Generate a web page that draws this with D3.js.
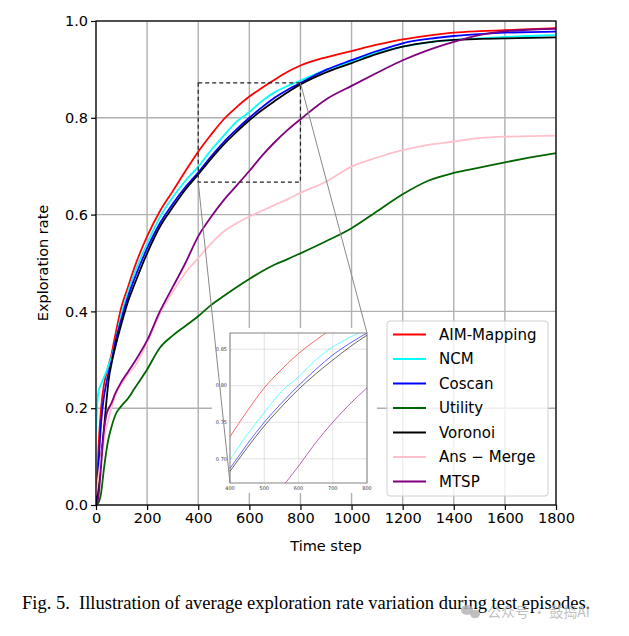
<!DOCTYPE html>
<html>
<head>
<meta charset="utf-8">
<script src="https://cdn.jsdelivr.net/npm/d3@7"></script>
<style>
  body { margin: 0; background: #fff; }
  svg { display: block; font-family: "DejaVu Sans", sans-serif; }
</style>
</head>
<body>
<svg id="chart" width="629" height="636"></svg>
<script>
// Data
// ----
const steps = [0, 5, 10, 20, 30, 40, 50, 60, 75, 100, 125, 150, 200, 250, 300, 350, 400, 450, 500,
  550, 600, 650, 700, 750, 800, 900, 1000, 1100, 1200, 1300, 1400, 1500, 1600, 1700, 1800];

const aimMapping = [0, 0.05, 0.12, 0.2, 0.245, 0.27, 0.29, 0.31, 0.35, 0.41, 0.45, 0.49, 0.555, 0.607, 0.648,
  0.69, 0.73, 0.765, 0.797, 0.822, 0.844, 0.862, 0.879, 0.895, 0.908, 0.925, 0.938, 0.951, 0.962, 0.97,
  0.976, 0.979, 0.981, 0.983, 0.985];
const ncm = [0.15, 0.21, 0.235, 0.25, 0.262, 0.275, 0.29, 0.305, 0.335, 0.395, 0.44, 0.478, 0.54, 0.595, 0.636,
  0.67, 0.699, 0.733, 0.763, 0.792, 0.812, 0.835, 0.853, 0.866, 0.877, 0.899, 0.917, 0.934, 0.947, 0.956,
  0.961, 0.964, 0.967, 0.969, 0.971];
const coscan = [0, 0.02, 0.08, 0.17, 0.22, 0.25, 0.275, 0.295, 0.335, 0.385, 0.43, 0.467, 0.53, 0.582, 0.622,
  0.657, 0.687, 0.72, 0.75, 0.776, 0.8, 0.822, 0.842, 0.858, 0.872, 0.899, 0.919, 0.938, 0.954, 0.963,
  0.969, 0.973, 0.976, 0.977, 0.978];
const utility = [0, 0.002, 0.005, 0.025, 0.07, 0.11, 0.14, 0.16, 0.185, 0.205, 0.22, 0.24, 0.28, 0.325, 0.35,
  0.37, 0.39, 0.413, 0.432, 0.45, 0.467, 0.483, 0.497, 0.508, 0.52, 0.545, 0.572, 0.607, 0.642, 0.67,
  0.686, 0.697, 0.708, 0.718, 0.727];
const voronoi = [0, 0.01, 0.04, 0.1, 0.15, 0.21, 0.26, 0.29, 0.325, 0.375, 0.42, 0.455, 0.52, 0.575, 0.615,
  0.652, 0.683, 0.715, 0.745, 0.771, 0.795, 0.816, 0.835, 0.853, 0.869, 0.894, 0.913, 0.932, 0.947, 0.956,
  0.961, 0.963, 0.964, 0.965, 0.966];
const ansMerge = [0.02, 0.04, 0.06, 0.1, 0.13, 0.16, 0.18, 0.2, 0.225, 0.25, 0.27, 0.285, 0.335, 0.395, 0.44,
  0.48, 0.51, 0.54, 0.565, 0.582, 0.596, 0.608, 0.62, 0.632, 0.645, 0.668, 0.699, 0.718, 0.733, 0.744,
  0.751, 0.758, 0.761, 0.762, 0.763];
const mtsp = [0, 0.005, 0.02, 0.08, 0.15, 0.185, 0.2, 0.21, 0.23, 0.255, 0.275, 0.295, 0.34, 0.4, 0.45,
  0.5, 0.555, 0.595, 0.63, 0.66, 0.69, 0.722, 0.75, 0.775, 0.797, 0.838, 0.866, 0.893, 0.919, 0.94,
  0.957, 0.971, 0.979, 0.982, 0.984];

const seriesNames = ["AIM-Mapping", "NCM", "Coscan", "Utility", "Voronoi", "Ans \u2212 Merge", "MTSP"];
const seriesColors = ["red", "cyan", "blue", "darkgreen", "black", "pink", "purple"];
const seriesValues = [aimMapping, ncm, coscan, utility, voronoi, ansMerge, mtsp];

const xTicks = [0, 200, 400, 600, 800, 1000, 1200, 1400, 1600, 1800];
const yTicks = [0, 0.2, 0.4, 0.6, 0.8, 1.0];
const zoomX = [400, 800];
const zoomY = [0.667, 0.872];
const insetXTicks = [400, 500, 600, 700, 800];
const insetYTicks = [0.70, 0.75, 0.80, 0.85];

const series = seriesNames.map((name, i) => ({
  name, color: seriesColors[i],
  points: steps.map((t, j) => [t, seriesValues[i][j]])
}));

// Main axes
// ---------
const svg = d3.select("#chart");
svg.append("rect").attr("width", 629).attr("height", 636).attr("fill", "#fff");

const plot = { left: 96, right: 556, top: 21, bottom: 505 };
const x = d3.scaleLinear().domain([0, 1800]).range([plot.left, plot.right]);
const y = d3.scaleLinear().domain([0, 1]).range([plot.bottom, plot.top]);

// grid
const grid = svg.append("g").attr("stroke", "#b0b0b0").attr("stroke-width", 1.4);
grid.selectAll(".gx").data(xTicks).join("line")
  .attr("x1", d => x(d)).attr("x2", d => x(d)).attr("y1", plot.top).attr("y2", plot.bottom);
grid.selectAll(".gy").data(yTicks).join("line")
  .attr("x1", plot.left).attr("x2", plot.right).attr("y1", d => y(d)).attr("y2", d => y(d));

const defs = svg.append("defs");
defs.append("clipPath").attr("id", "mainClip")
  .append("rect").attr("x", plot.left).attr("y", plot.top - 2)
  .attr("width", plot.right - plot.left).attr("height", plot.bottom - plot.top + 2);

const line = d3.line().curve(d3.curveMonotoneX).x(d => x(d[0])).y(d => y(d[1]));
svg.append("g").attr("clip-path", "url(#mainClip)")
  .selectAll("path").data(series).join("path")
  .attr("fill", "none").attr("stroke", d => d.color).attr("stroke-width", 1.8)
  .attr("stroke-linejoin", "round").attr("d", d => line(d.points));

// frame and axes
svg.append("rect").attr("x", plot.left).attr("y", plot.top)
  .attr("width", plot.right - plot.left).attr("height", plot.bottom - plot.top)
  .attr("fill", "none").attr("stroke", "#000").attr("stroke-width", 1.2);

const xAxis = svg.append("g").attr("transform", `translate(0,${plot.bottom})`)
  .call(d3.axisBottom(x).tickValues(xTicks).tickFormat(d3.format("d")).tickSize(5).tickPadding(3));
const yAxis = svg.append("g").attr("transform", `translate(${plot.left},0)`)
  .call(d3.axisLeft(y).tickValues(yTicks).tickFormat(d3.format(".1f")).tickSize(5).tickPadding(3));
[xAxis, yAxis].forEach(a => {
  a.select(".domain").remove();
  a.selectAll("line").attr("stroke", "#000").attr("stroke-width", 1.2);
  a.selectAll("text").attr("font-size", 14.5).attr("fill", "#000")
    .attr("font-family", "DejaVu Sans, sans-serif");
});

svg.append("text").attr("x", (plot.left + plot.right) / 2).attr("y", 551)
  .attr("text-anchor", "middle").attr("font-size", 14.5).text("Time step");
svg.append("text").attr("transform", `translate(48,${(plot.top + plot.bottom) / 2}) rotate(-90)`)
  .attr("text-anchor", "middle").attr("font-size", 14.5).text("Exploration rate");

// zoom window marker
svg.append("rect").attr("x", x(zoomX[0])).attr("y", y(zoomY[1]))
  .attr("width", x(zoomX[1]) - x(zoomX[0])).attr("height", y(zoomY[0]) - y(zoomY[1]))
  .attr("fill", "none").attr("stroke", "#222").attr("stroke-width", 1.2).attr("stroke-dasharray", "4,3");

// Inset
// -----
const inset = { left: 230, right: 367, top: 333, bottom: 483 };
const ix = d3.scaleLinear().domain(zoomX).range([inset.left, inset.right]);
const iy = d3.scaleLinear().domain(zoomY).range([inset.bottom, inset.top]);

svg.append("rect").attr("x", 212).attr("y", 328).attr("width", 165).attr("height", 165).attr("fill", "#fff");

const igrid = svg.append("g").attr("stroke", "#dcdcdc").attr("stroke-width", 0.8);
igrid.selectAll(".ix").data(insetXTicks).join("line")
  .attr("x1", d => ix(d)).attr("x2", d => ix(d)).attr("y1", inset.top).attr("y2", inset.bottom);
igrid.selectAll(".iy").data(insetYTicks).join("line")
  .attr("x1", inset.left).attr("x2", inset.right).attr("y1", d => iy(d)).attr("y2", d => iy(d));

defs.append("clipPath").attr("id", "insetClip")
  .append("rect").attr("x", inset.left).attr("y", inset.top)
  .attr("width", inset.right - inset.left).attr("height", inset.bottom - inset.top);

const iline = d3.line().curve(d3.curveMonotoneX).x(d => ix(d[0])).y(d => iy(d[1]));
svg.append("g").attr("clip-path", "url(#insetClip)")
  .selectAll("path").data(series).join("path")
  .attr("fill", "none").attr("stroke", d => d.color).attr("stroke-width", 0.8)
  .attr("stroke-opacity", 0.75).attr("d", d => iline(d.points));

svg.append("rect").attr("x", inset.left).attr("y", inset.top)
  .attr("width", inset.right - inset.left).attr("height", inset.bottom - inset.top)
  .attr("fill", "none").attr("stroke", "#777").attr("stroke-width", 0.9);

svg.append("g").selectAll("text").data(insetXTicks).join("text")
  .attr("x", d => ix(d)).attr("y", inset.bottom + 7).attr("text-anchor", "middle")
  .attr("font-size", 5).attr("fill", "#333").text(d => d);
svg.append("g").selectAll("text").data(insetYTicks).join("text")
  .attr("x", inset.left - 3).attr("y", d => iy(d) + 1.8).attr("text-anchor", "end")
  .attr("font-size", 5).attr("fill", "#333").text(d => d.toFixed(2));

// connector lines
const conn = svg.append("g").attr("stroke", "#888").attr("stroke-width", 1);
conn.append("line").attr("x1", x(zoomX[0])).attr("y1", y(zoomY[0]))
  .attr("x2", inset.left).attr("y2", inset.bottom);
conn.append("line").attr("x1", x(zoomX[1])).attr("y1", y(zoomY[1]))
  .attr("x2", inset.right).attr("y2", inset.top);

// Legend
// ------
const legend = svg.append("g").attr("transform", "translate(387,321)");
legend.append("rect").attr("width", 161).attr("height", 175).attr("rx", 3)
  .attr("fill", "#fff").attr("fill-opacity", 0.8).attr("stroke", "#d0d0d0");
const items = legend.selectAll("g").data(series).join("g")
  .attr("transform", (d, i) => `translate(0,${13.5 + i * 24.5})`);
items.append("line").attr("x1", 6).attr("x2", 39)
  .attr("stroke", d => d.color).attr("stroke-width", 1.8);
items.append("text").attr("x", 52).attr("dy", "0.35em").attr("font-size", 15).text(d => d.name);

// Caption
// -------
svg.append("text").attr("x", 22).attr("y", 609)
  .style("font-family", "'Liberation Serif', 'Times New Roman', serif").attr("font-size", 18.5)
  .style("white-space", "pre")
  .text("Fig. 5.  Illustration of average exploration rate variation during test episodes.");

const mark = svg.append("g").attr("fill", "#b4b4b4").attr("fill-opacity", 0.85);
mark.append("ellipse").attr("cx", 467).attr("cy", 610).attr("rx", 6).attr("ry", 5);
mark.append("ellipse").attr("cx", 475).attr("cy", 614).attr("rx", 5).attr("ry", 4.2);
mark.append("text").attr("x", 487).attr("y", 617).attr("font-size", 14)
  .style("font-family", "'Noto Sans CJK SC', sans-serif").text("公众号 · 鼓捣AI");
</script>
</body>
</html>
